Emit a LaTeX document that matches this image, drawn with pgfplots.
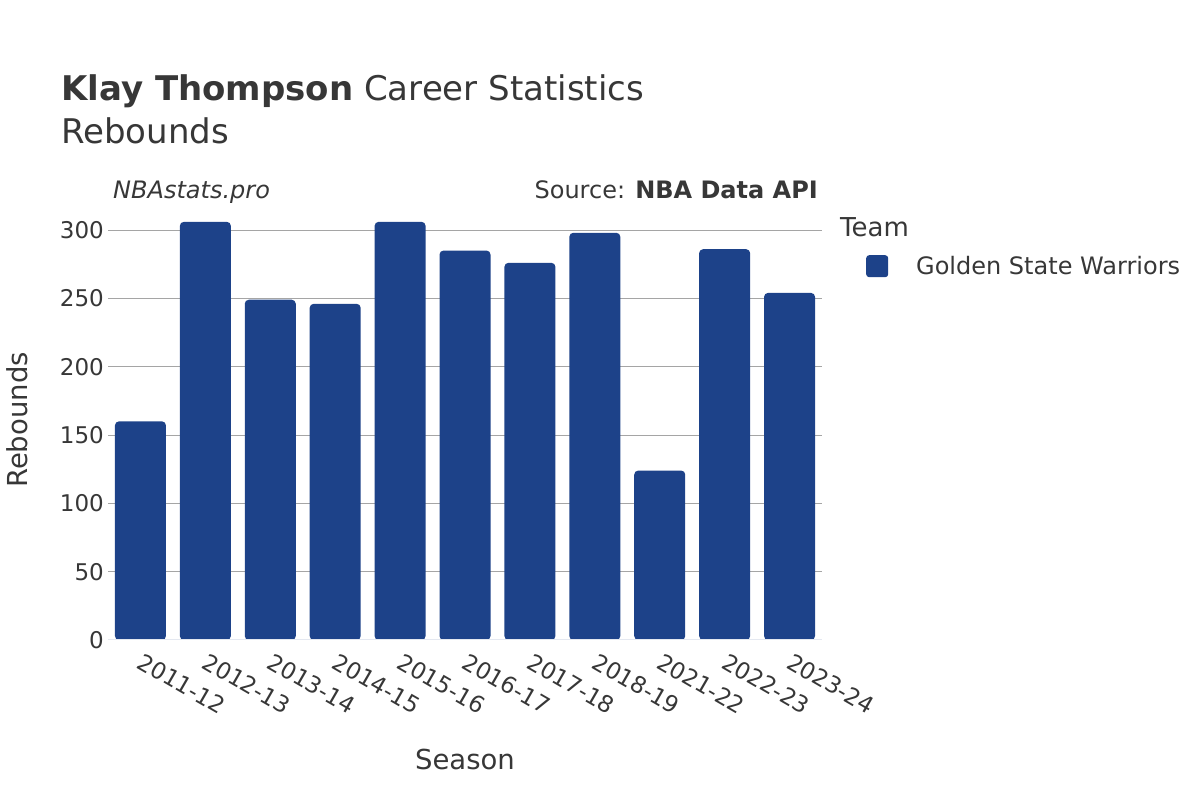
\documentclass[border=0pt]{standalone}
\usepackage{fontspec}
\setmainfont{DejaVu Sans}
\usepackage{pgfplots}
\pgfplotsset{compat=1.18}
\definecolor{barc}{RGB}{29,66,137}
\definecolor{txt}{RGB}{55,55,55}
\definecolor{gridc}{RGB}{165,165,165}
\definecolor{zeroc}{RGB}{228,232,240}
\begin{document}
\begin{tikzpicture}[x=1bp,y=1bp]
\path[use as bounding box] (0,0) rectangle (1200,800);
\begin{axis}[
  at={(108bp,160bp)}, anchor=south west,
  scale only axis, width=714bp, height=440bp,
  xmin=-0.5, xmax=10.5, ymin=0, ymax=322,
  ybar, bar width=51bp,
  xtick=data,
  xticklabels={2011-12,2012-13,2013-14,2014-15,2015-16,2016-17,2017-18,2018-19,2021-22,2022-23,2023-24},
  ytick={50,100,150,200,250,300},
  extra y ticks={0}, extra y tick labels={0},
  extra y tick style={major grid style={draw=none}},
  ymajorgrids, major grid style={gridc, line width=1bp},
  axis line style={draw=none},
  major tick length=0pt,
  tick label style={font=\fontsize{23bp}{27bp}\selectfont, text=txt},
  /pgf/number format/assume math mode=true,
  yticklabel style={anchor=east, inner sep=0pt, xshift=-4bp},
  xticklabel style={xshift=4bp, yshift=-12bp, rotate=-30, anchor=north west, inner sep=0pt},
  legend style={at={(1.0616,0.875)}, anchor=north west, draw=none, fill=none, inner sep=0pt,
    font=\fontsize{24bp}{28bp}\selectfont, text=txt, column sep=28bp,
    nodes={inner sep=0pt}},
  legend cell align=left,
  legend image code/.code={\fill[barc, rounded corners=3bp] (0bp,-11bp) rectangle (22bp,11bp);},
]
\addplot[fill=barc, draw=none, rounded corners=4bp] coordinates {
  (0,160) (1,306) (2,249) (3,246) (4,306) (5,285) (6,276) (7,298) (8,124) (9,286) (10,254)
};
\addlegendentry{Golden State Warriors}
\draw[zeroc, line width=2bp] (axis cs:-0.5,0) -- (axis cs:10.5,0);
\end{axis}
\node[anchor=base west, inner sep=0pt, text=txt] at (61,699) {\fontsize{34bp}{39bp}\selectfont\textbf{Klay Thompson} Career Statistics};
\node[anchor=base west, inner sep=0pt, text=txt] at (61,656) {\fontsize{34bp}{39bp}\selectfont Rebounds};
\node[anchor=base west, inner sep=0pt, text=txt] at (113,601) {\fontsize{24bp}{28bp}\selectfont\itshape NBAstats.pro};
\node[anchor=base east, inner sep=0pt, text=txt] at (818,601) {\fontsize{24bp}{28bp}\selectfont Source: \textbf{NBA Data API}};
\node[anchor=base west, inner sep=0pt, text=txt] at (840,563) {\fontsize{26bp}{30bp}\selectfont Team};
\node[anchor=base, inner sep=0pt, text=txt] at (465,30) {\fontsize{27.5bp}{32bp}\selectfont Season};
\node[rotate=90, anchor=center, inner sep=0pt, text=txt] at (17,380) {\fontsize{27.5bp}{32bp}\selectfont Rebounds};
\end{tikzpicture}
\end{document}
